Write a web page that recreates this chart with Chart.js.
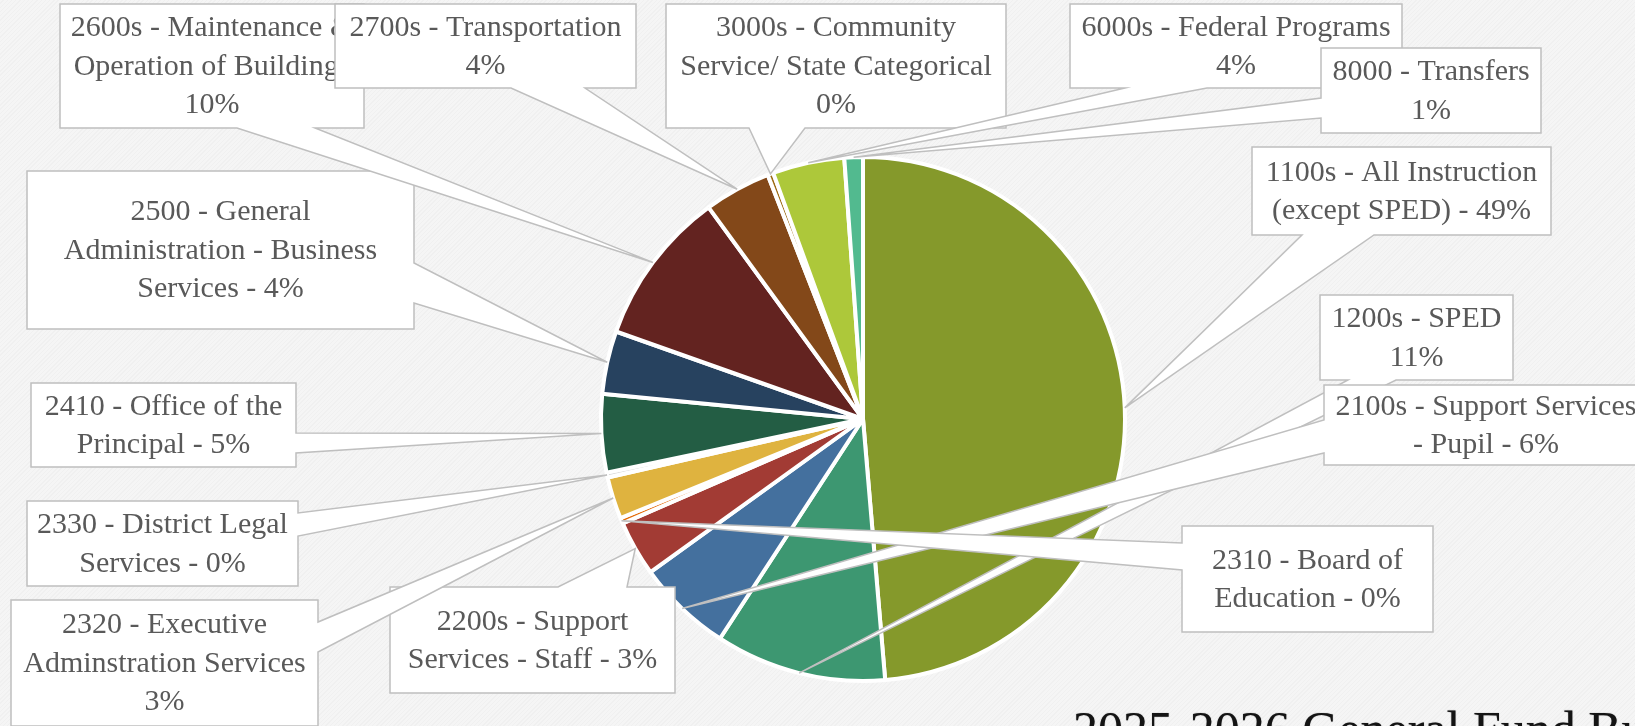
<!DOCTYPE html>
<html>
<head>
<meta charset="utf-8">
<title>2025-2026 General Fund Budget</title>
<script src="https://cdn.jsdelivr.net/npm/chart.js@4.4.1/dist/chart.umd.min.js"></script>
<style>
  html, body { margin: 0; padding: 0; }
  body {
    width: 1635px;
    height: 726px;
    overflow: hidden;
    position: relative;
    background-color: #f3f3f3;
    background-image: repeating-linear-gradient(135deg, #f5f5f5 0px, #f5f5f5 2px, #f0f0f0 2px, #f0f0f0 3px);
  }
  #budget-chart { position: absolute; left: 0; top: 0; }
  #title {
    position: absolute;
    left: 1073px;
    top: 704px;
    font: 50px 'Liberation Serif', serif;
    line-height: 50px;
    color: #141414;
    white-space: nowrap;
    text-shadow: 0 0 1px #777;
  }
</style>
</head>
<body>
<canvas id="budget-chart" width="1635" height="726"></canvas>
<div id="title">2025-2026 General Fund Budget</div>
<script>
// budget categories, clockwise from 12 o'clock
const categories = [
  '1100s - All Instruction (except SPED)',
  '1200s - SPED',
  '2100s - Support Services - Pupil',
  '2200s - Support Services - Staff',
  '2310 - Board of Education',
  '2320 - Executive Adminstration Services',
  '2330 - District Legal Services',
  '2410 - Office of the Principal',
  '2500 - General Administration - Business Services',
  '2600s - Maintenance & Operation of Buildings',
  '2700s - Transportation',
  '3000s - Community Service/ State Categorical',
  '6000s - Federal Programs',
  '8000 - Transfers'
];

// share of the budget (percent)
const amounts = [48.65, 10.54, 5.87, 3.42, 0.35, 2.59, 0.30, 4.81, 3.89, 9.55, 4.11, 0.35, 4.43, 1.14];

const sliceColors = [
  '#85992b', '#3d9771', '#44709e', '#a23b34', '#e46c0a', '#dfb33f', '#d9d9d9',
  '#235d44', '#27425f', '#632320', '#834819', '#9c6b14', '#adc83a', '#52ba8f'
];

// callout text as it wraps in each box, {p} = rounded percent
const labelLines = [
  ['1100s - All Instruction', '(except SPED) - {p}'],
  ['1200s - SPED', '{p}'],
  ['2100s - Support Services', '- Pupil - {p}'],
  ['2200s - Support', 'Services - Staff - {p}'],
  ['2310 - Board of', 'Education - {p}'],
  ['2320 - Executive', 'Adminstration Services', '{p}'],
  ['2330 - District Legal', 'Services - {p}'],
  ['2410 - Office of the', 'Principal - {p}'],
  ['2500 - General', 'Administration - Business', 'Services - {p}'],
  ['2600s - Maintenance &', 'Operation of Buildings', '{p}'],
  ['2700s - Transportation', '{p}'],
  ['3000s - Community', 'Service/ State Categorical', '{p}'],
  ['6000s - Federal Programs', '{p}'],
  ['8000 - Transfers', '{p}']
];

// callout layout: x, y, w, h, side the pointer leaves from, pointer base start / end on that side
const calloutBoxes = [
  [1252, 147, 299, 88, 'bottom', 1302, 1374],
  [1320, 295, 193, 85, 'bottom', 1348, 1396],
  [1324, 385, 324, 80, 'left', 420, 453],
  [390, 587, 285, 106, 'top', 558, 627],
  [1182, 526, 251, 106, 'left', 543, 570],
  [11, 600, 307, 126, 'right', 622, 652],
  [27, 501, 271, 85, 'right', 513, 536],
  [31, 383, 265, 84, 'right', 433, 453],
  [27, 171, 387, 158, 'right', 263, 303],
  [60, 4, 304, 124, 'bottom', 237, 315],
  [335, 4, 301, 84, 'bottom', 511, 585],
  [666, 4, 340, 124, 'bottom', 749, 805],
  [1070, 4, 332, 84, 'bottom', 1125, 1207],
  [1321, 48, 220, 85, 'left', 98, 118]
];

const total = amounts.reduce((a, b) => a + b, 0);

const calloutPlugin = {
  id: 'callouts',
  afterDatasetsDraw(chart) {
    const ctx = chart.ctx;
    const meta = chart.getDatasetMeta(0);
    ctx.save();
    meta.data.forEach((arc, i) => {
      const { x, y, startAngle, endAngle, outerRadius } =
        arc.getProps(['x', 'y', 'startAngle', 'endAngle', 'outerRadius'], true);
      const mid = (startAngle + endAngle) / 2;
      const tip = [x + Math.cos(mid) * outerRadius, y + Math.sin(mid) * outerRadius];
      const [bx, by, bw, bh, side, p1, p2] = calloutBoxes[i];

      // box outline with the pointer merged into one side
      const pts = [[bx, by]];
      if (side === 'top') pts.push([p1, by], tip, [p2, by]);
      pts.push([bx + bw, by]);
      if (side === 'right') pts.push([bx + bw, p1], tip, [bx + bw, p2]);
      pts.push([bx + bw, by + bh]);
      if (side === 'bottom') pts.push([p2, by + bh], tip, [p1, by + bh]);
      pts.push([bx, by + bh]);
      if (side === 'left') pts.push([bx, p2], tip, [bx, p1]);

      ctx.beginPath();
      pts.forEach((p, k) => (k ? ctx.lineTo(p[0], p[1]) : ctx.moveTo(p[0], p[1])));
      ctx.closePath();
      ctx.fillStyle = '#ffffff';
      ctx.fill();
      ctx.lineWidth = 1.5;
      ctx.strokeStyle = '#bfbfbf';
      ctx.stroke();

      const pct = Math.round(amounts[i] / total * 100) + '%';
      const lines = labelLines[i].map((l) => l.replace('{p}', pct));
      ctx.fillStyle = '#595959';
      ctx.font = '30px "Liberation Serif"';
      ctx.textAlign = 'center';
      ctx.textBaseline = 'middle';
      const lh = 38.5;
      const cy = by + bh / 2;
      lines.forEach((l, k) => {
        ctx.fillText(l, bx + bw / 2, cy + (k - (lines.length - 1) / 2) * lh + 1);
      });
    });
    ctx.restore();
  }
};

new Chart(document.getElementById('budget-chart'), {
  type: 'pie',
  data: {
    labels: categories,
    datasets: [{
      data: amounts,
      backgroundColor: sliceColors,
      borderColor: '#ffffff',
      borderWidth: 4
    }]
  },
  options: {
    responsive: false,
    animation: false,
    layout: { padding: { top: 155, bottom: 43, left: 599, right: 508 } },
    plugins: {
      legend: { display: false },
      tooltip: { enabled: false }
    }
  },
  plugins: [calloutPlugin]
});
</script>
</body>
</html>
